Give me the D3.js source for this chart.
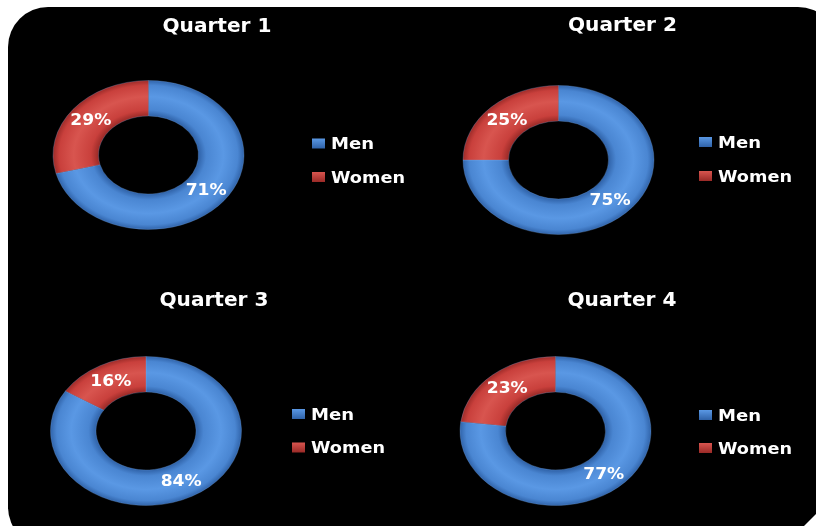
<!DOCTYPE html>
<html><head><meta charset="utf-8">
<script src="https://cdn.jsdelivr.net/npm/d3@7"></script>
<style>
html,body{margin:0;padding:0;background:#fff;}
svg{display:block;}
text{font-family:"DejaVu Sans","Open Sans",sans-serif;font-weight:bold;fill:#fff;}
</style></head>
<body>
<svg id="chart" width="816" height="526"></svg>
<script>
const quarters = ["Quarter 1", "Quarter 2", "Quarter 3", "Quarter 4"];
const categories = ["Men", "Women"];
const menShare = [71, 75, 84, 77];
const womenShare = [29, 25, 16, 23];

const W = 816, H = 526;
const svg = d3.select("#chart");
const defs = svg.append("defs");

const colors = {Men: "#4a86d2", Women: "#c9403c"};
const dark = {Men: "#2f62a8", Women: "#9a2a27"};
const light = {Men: "#5a98e4", Women: "#d8554f"};

categories.forEach(c => {
  const g = defs.append("radialGradient").attr("id", "grad-" + c)
    .attr("gradientUnits", "userSpaceOnUse").attr("cx", 0).attr("cy", 0).attr("r", 96);
  g.append("stop").attr("offset", 0.52).attr("stop-color", dark[c]);
  g.append("stop").attr("offset", 0.6).attr("stop-color", colors[c]);
  g.append("stop").attr("offset", 0.78).attr("stop-color", light[c]);
  g.append("stop").attr("offset", 0.93).attr("stop-color", colors[c]);
  g.append("stop").attr("offset", 1).attr("stop-color", dark[c]);
  const lg = defs.append("linearGradient").attr("id", "mk-" + c)
    .attr("x1", 0).attr("y1", 0).attr("x2", 0).attr("y2", 1);
  lg.append("stop").attr("offset", 0).attr("stop-color", light[c]);
  lg.append("stop").attr("offset", 1).attr("stop-color", dark[c]);
});

const glow = defs.append("filter").attr("id", "soft").attr("x", "-10%").attr("y", "-20%").attr("width", "120%").attr("height", "140%");
glow.append("feGaussianBlur").attr("stdDeviation", 0.3);

// black rounded panel
svg.append("rect").attr("x", 8).attr("y", 7).attr("width", 830).attr("height", 540)
  .attr("rx", 40).attr("ry", 40).attr("fill", "#000");
svg.append("path").attr("d", `M${W-12},${H} L${W},${H-12} L${W},${H} Z`).attr("fill", "#fff");

const layout = [
  {cx: 148.5, cy: 155, title: [217, 32], legend: [312, 143.5], gap: 33.5},
  {cx: 558.5, cy: 160, title: [622.5, 31], legend: [699, 142], gap: 34},
  {cx: 146, cy: 431, title: [214, 306], legend: [292, 414], gap: 33.5},
  {cx: 555.5, cy: 431, title: [622, 306], legend: [699, 415], gap: 33}
];
const yScaleFactor = 0.78;
const outerR = 95.5, innerR = 50;

const pie = d3.pie().sort(null).value(d => d.value);
const arc = d3.arc().innerRadius(innerR).outerRadius(outerR);
const labelArc = d3.arc().innerRadius(73).outerRadius(73);
const legendLen = {Men: 43, Women: 74};

quarters.forEach((q, i) => {
  const L = layout[i];
  const data = [
    {key: "Men", value: menShare[i]},
    {key: "Women", value: womenShare[i]}
  ];
  const arcs = pie(data);
  const g = svg.append("g").attr("transform", `translate(${L.cx},${L.cy})`);
  const ring = g.append("g").attr("transform", `scale(1,${yScaleFactor})`);
  ring.selectAll("path").data(arcs).join("path")
    .attr("d", arc)
    .attr("fill", d => `url(#grad-${d.data.key})`)
    .attr("stroke", "#7fb0ee").attr("stroke-width", 0.6).attr("stroke-opacity", 0.5);
  g.selectAll("text.val").data(arcs).join("text").attr("class", "val")
    .attr("x", d => labelArc.centroid(d)[0] - 20.5)
    .attr("y", d => labelArc.centroid(d)[1] * yScaleFactor)
    .attr("dominant-baseline", "central")
    .attr("font-size", 15).attr("textLength", 41).attr("lengthAdjust", "spacingAndGlyphs")
    .attr("filter", "url(#soft)")
    .text(d => d.data.value + "%");

  svg.append("text").attr("x", L.title[0] - 54.5).attr("y", L.title[1])
    .attr("font-size", 19).attr("textLength", 109).attr("lengthAdjust", "spacingAndGlyphs")
    .attr("filter", "url(#soft)")
    .text(q);

  const lg = svg.append("g").attr("transform", `translate(${L.legend[0]},${L.legend[1]})`);
  categories.forEach((c, j) => {
    const row = lg.append("g").attr("transform", `translate(0,${j * L.gap})`);
    row.append("rect").attr("x", 0).attr("y", -5).attr("width", 13).attr("height", 10)
      .attr("fill", `url(#mk-${c})`);
    row.append("text").attr("x", 19).attr("y", 0).attr("dominant-baseline", "central")
      .attr("font-size", 16).attr("textLength", legendLen[c]).attr("lengthAdjust", "spacingAndGlyphs")
      .attr("filter", "url(#soft)")
      .text(c);
  });
});
</script>
</body></html>
